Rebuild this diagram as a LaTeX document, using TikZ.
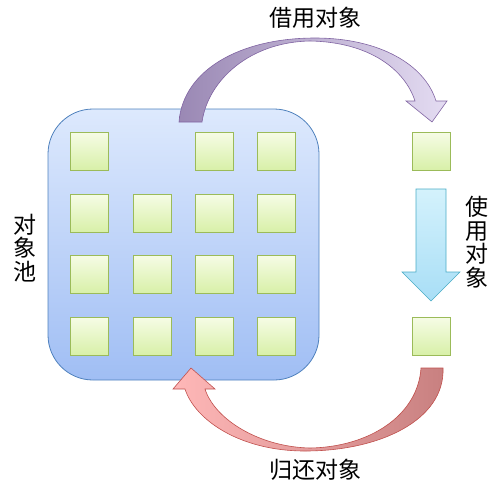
\documentclass[tikz,border=0pt]{standalone}
\usepackage{fontspec}
\newfontfamily\cjk{Noto Sans CJK SC}
\usepackage{tikz}
\usetikzlibrary{positioning}
\usepackage{xcolor}
\definecolor{pooltop}{RGB}{221,233,253}
\definecolor{poolbottom}{RGB}{160,190,244}
\definecolor{pooledge}{RGB}{79,129,189}
\definecolor{itemtop}{RGB}{246,252,230}
\definecolor{itembottom}{RGB}{216,240,168}
\definecolor{itemedge}{RGB}{155,187,89}
\definecolor{borrowdark}{RGB}{154,136,180}
\definecolor{borrowlight}{RGB}{228,220,242}
\definecolor{borrowedge}{RGB}{128,100,162}
\definecolor{returnlight}{RGB}{255,184,184}
\definecolor{returndark}{RGB}{200,128,128}
\definecolor{returnedge}{RGB}{192,80,77}
\definecolor{usetop}{RGB}{212,242,252}
\definecolor{usebottom}{RGB}{168,222,246}
\definecolor{useedge}{RGB}{75,172,198}
\tikzset{
  poolbox/.style={rectangle, rounded corners=45pt, draw=pooledge, line width=0.8pt,
                  top color=pooltop, bottom color=poolbottom,
                  minimum width=271pt, minimum height=271pt},
  item/.style={rectangle, draw=itemedge, line width=0.9pt, top color=itemtop,
               bottom color=itembottom, minimum size=38pt, inner sep=0pt},
  borrowarrow/.style={draw=borrowedge, line width=0.6pt, left color=borrowdark, right color=borrowlight},
  returnarrow/.style={draw=returnedge, line width=0.6pt, left color=returnlight, right color=returndark},
  usearrow/.style={draw=useedge, line width=0.6pt, top color=usetop, bottom color=usebottom},
  caption/.style={font=\cjk\fontsize{23}{23.5}\selectfont, inner sep=0pt},
  vcaption/.style={caption, align=center},
}

\begin{document}
\begin{tikzpicture}[x=1pt, y=-1pt]
\useasboundingbox (0,0) rectangle (500,491);
% the pool and what is in it
\node[poolbox] (pool) at (183.5,244.5) {};
\foreach \r/\y in {1/151,2/213,3/274,4/336}
  \foreach \c/\x in {1/89,2/152,3/214,4/276}
    {\ifnum\r\c=12 \else \node[item] (s\r\c) at (\x,\y) {}; \fi}
\node[item] (taken) at (431,151) {};
\node[item] (used) at (431,336) {};
% borrow
\path[borrowarrow] (179,122) .. controls (183,70) and (240,38) .. (315,38)
  .. controls (380,38) and (425,65) .. (436,101) -- (447,101) -- (432,122) -- (406,101) -- (415,101)
  .. controls (405,70) and (370,42) .. (310,41)
  .. controls (250,42) and (208,80) .. (202,122) -- cycle;
% use
\path[usearrow] (416,189) -- (446,189) -- (446,272) -- (460,272) -- (431,301)
  -- (402,272) -- (416,272) -- cycle;
% give back
\path[returnarrow] (443,368) .. controls (445,420) and (380,451) .. (305,451)
  .. controls (240,451) and (195,420) .. (185,389) -- (173,389) -- (191,368) -- (215,389) -- (205,389)
  .. controls (215,420) and (260,447) .. (310,448)
  .. controls (370,447) and (418,415) .. (421,368) -- cycle;
% labels
\node[caption] (borrow) at (315,18) {借用对象};
\node[caption] (giveback) at (315,470) {归还对象};
\node[vcaption] (use) at (477,242) {使\\用\\对\\象};
\node[vcaption] (poolname) at (25,248) {对\\象\\池};
\end{tikzpicture}
\end{document}
